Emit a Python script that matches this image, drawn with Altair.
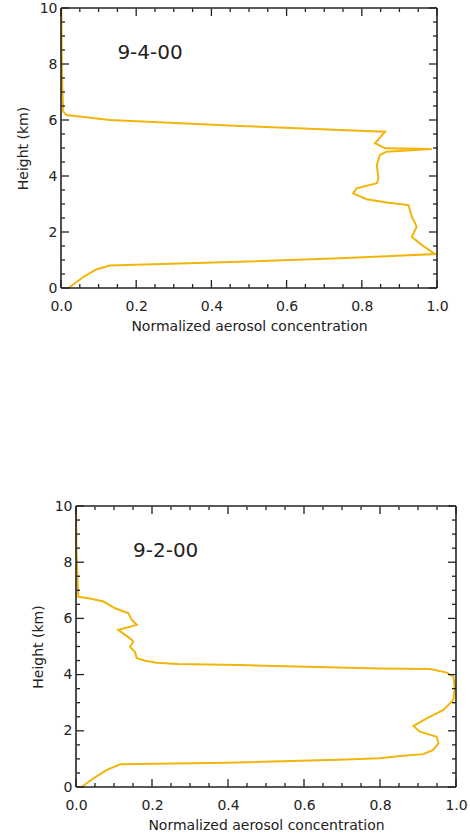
import altair as alt
import pandas as pd

# ---- data ----
TOP_LABEL = "9-4-00"
TOP_X = [0.02, 0.06, 0.095, 0.13, 0.476, 0.742, 0.995, 0.959, 0.933, 0.946, 0.933, 0.924,
         0.866, 0.813, 0.777, 0.786, 0.84, 0.844, 0.84, 0.848, 0.866, 0.986, 0.862, 0.835,
         0.862, 0.742, 0.476, 0.13, 0.015, 0.006, 0.004, 0.002, 0.001]
TOP_Y = [0.0, 0.4, 0.67, 0.8, 0.94, 1.06, 1.21, 1.54, 1.83, 2.19, 2.55, 2.96,
         3.05, 3.17, 3.38, 3.56, 3.74, 3.92, 4.39, 4.75, 4.87, 4.96, 4.99, 5.17,
         5.58, 5.64, 5.79, 6.0, 6.18, 6.3, 7.0, 8.0, 10.0]

BOT_LABEL = "9-2-00"
BOT_X = [0.015, 0.046, 0.08, 0.116, 0.4, 0.69, 0.8, 0.853, 0.914, 0.94, 0.954, 0.949,
         0.905, 0.888, 0.923, 0.967, 0.993, 0.997, 0.993, 0.976, 0.932, 0.8, 0.43, 0.269,
         0.212, 0.182, 0.16, 0.155, 0.142, 0.151, 0.142, 0.111, 0.16, 0.147, 0.138,
         0.103, 0.072, 0.037, 0.006, 0.004, 0.001, 0.0]
BOT_Y = [0.0, 0.31, 0.6, 0.81, 0.86, 0.97, 1.02, 1.1, 1.17, 1.32, 1.56, 1.79,
         1.97, 2.17, 2.44, 2.74, 3.1, 3.51, 3.93, 4.07, 4.2, 4.22, 4.34, 4.38,
         4.42, 4.49, 4.58, 4.81, 4.99, 5.17, 5.29, 5.59, 5.77, 5.94, 6.18,
         6.36, 6.6, 6.71, 6.77, 7.4, 8.5, 10.0]

X_MAJOR = [0.0, 0.2, 0.4, 0.6, 0.8, 1.0]
X_MINOR = [0.05, 0.1, 0.15, 0.25, 0.3, 0.35, 0.45, 0.5, 0.55, 0.65, 0.7, 0.75, 0.85, 0.9, 0.95]
Y_MAJOR = [0, 2, 4, 6, 8, 10]
Y_MINOR = [0.5, 1, 1.5, 2.5, 3, 3.5, 4.5, 5, 5.5, 6.5, 7, 7.5, 8.5, 9, 9.5]
X_DOMAIN = [0.0, 1.0]
Y_DOMAIN = [0.0, 10.0]

LABEL_X = 0.15
LABEL_Y = 8.4

LINE_COLOR = "#F2B50C"
INK = "#222222"
FONT = "DejaVu Sans"


def panel(xs, ys, label, x0, w, h):
    """x0: left inset of the plot frame inside the view (px), w: frame width."""
    x1 = x0 + w
    df = pd.DataFrame({"x": xs, "y": ys, "i": list(range(len(xs)))})
    xs_ = alt.Scale(domain=X_DOMAIN, range=[x0, x1], nice=False, zero=False)
    ys_ = alt.Scale(domain=Y_DOMAIN, nice=False, zero=False)
    x_axis = alt.Axis(
        title="Normalized aerosol concentration", values=X_MAJOR, format=".1f",
        ticks=False, domain=False, grid=False, labelPadding=11, titlePadding=6,
        labelFlush=False, titleX=(x0 + x1) / 2)
    y_axis = alt.Axis(
        title="Height (km)", values=Y_MAJOR, format="d", offset=-x0,
        ticks=False, domain=False, grid=False, labelPadding=4, titlePadding=9,
        labelFlush=False)

    def X():
        return alt.X("x:Q", scale=xs_, axis=x_axis)

    def Y():
        return alt.Y("y:Q", scale=ys_, axis=y_axis)

    line = alt.Chart(df).mark_line(color=LINE_COLOR, strokeWidth=2).encode(
        x=X(), y=Y(), order="i:Q")

    layers = [line]
    for vals, L in ((X_MAJOR, 8), (X_MINOR, 4)):
        d = pd.DataFrame({"x": vals})
        for ya, yb in ((0.5, L), (h, h - L)):
            layers.append(alt.Chart(d).mark_rule(color=INK, strokeWidth=1.3).encode(
                x=X(), y=alt.value(ya), y2=alt.value(yb)))
    for vals, L in ((Y_MAJOR, 8), (Y_MINOR, 4)):
        d = pd.DataFrame({"y": vals})
        for xa, xb in ((x0 + 0.5, x0 + L), (x1, x1 - L)):
            layers.append(alt.Chart(d).mark_rule(color=INK, strokeWidth=1.3).encode(
                y=Y(), x=alt.value(xa), x2=alt.value(xb)))

    # frame, drawn through the scales
    vframe = pd.DataFrame({"x": X_DOMAIN, "y": [Y_DOMAIN[0]] * 2, "y2": [Y_DOMAIN[1]] * 2})
    layers.append(alt.Chart(vframe).mark_rule(color=INK, strokeWidth=1.6).encode(
        x=X(), y=Y(), y2="y2:Q"))
    hframe = pd.DataFrame({"y": Y_DOMAIN, "x": [X_DOMAIN[0]] * 2, "x2": [X_DOMAIN[1]] * 2})
    layers.append(alt.Chart(hframe).mark_rule(color=INK, strokeWidth=1.6).encode(
        y=Y(), x=X(), x2="x2:Q"))

    lab = pd.DataFrame({"x": [LABEL_X], "y": [LABEL_Y], "t": [label]})
    layers.append(alt.Chart(lab).mark_text(
        align="left", baseline="middle", font=FONT, fontSize=20, color=INK).encode(
        x=X(), y=Y(), text="t:N"))
    # invisible spacer fixing the panel's outer bounds
    layers.append(alt.Chart(lab).mark_rule(opacity=0, strokeOpacity=0).encode(
        x=alt.value(-55), x2=alt.value(-55),
        y=alt.value(-8), y2=alt.value(h + 50)))

    return alt.layer(*layers).properties(width=x1, height=h)


top = panel(TOP_X, TOP_Y, TOP_LABEL, 0, 376, 280)
bot = panel(BOT_X, BOT_Y, BOT_LABEL, 15, 380, 281)

chart = alt.vconcat(top, bot, spacing=160).properties(
    padding={"left": 6, "top": 0, "right": 0, "bottom": 0},
    background="white",
).configure_view(strokeWidth=0).configure_axis(
    labelFont=FONT, labelFontSize=14, labelColor=INK,
    titleFont=FONT, titleFontSize=14, titleFontWeight="normal", titleColor=INK,
)

chart.save("out.html", embed_options={"renderer": "svg", "actions": False})
